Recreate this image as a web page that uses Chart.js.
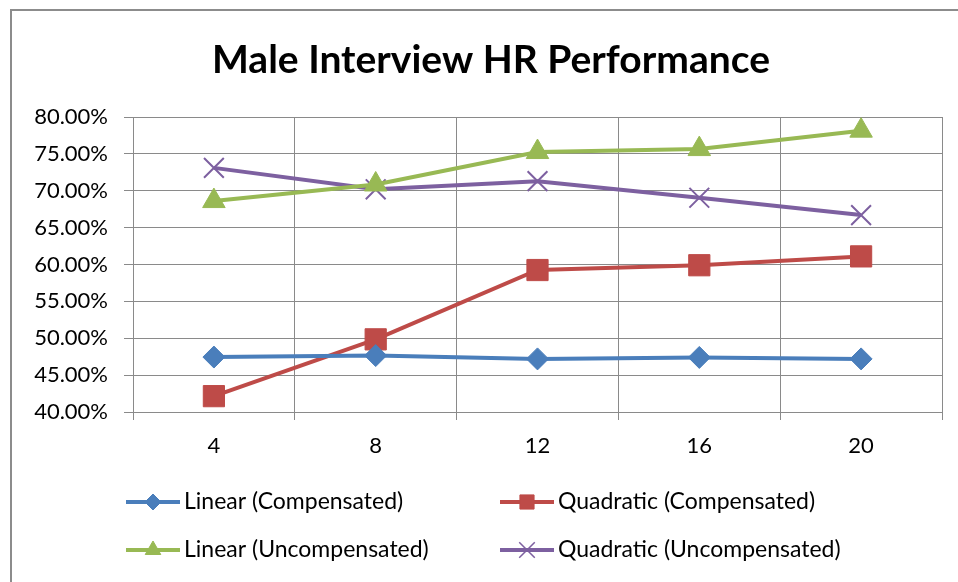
<!DOCTYPE html>
<html>
<head>
<meta charset="utf-8">
<script src="https://cdn.jsdelivr.net/npm/chart.js@4/dist/chart.umd.min.js"></script>
<style>
  html, body { margin: 0; padding: 0; background: #ffffff; }
  #wrap { width: 958px; height: 582px; position: relative; }
</style>
</head>
<body>
<div id="wrap"><canvas id="c" width="958" height="582"></canvas></div>
<script>
const chartTitle = 'Male Interview HR Performance';
const categories = ['4', '8', '12', '16', '20'];
const seriesNames = ['Linear (Compensated)', 'Quadratic (Compensated)', 'Linear (Uncompensated)', 'Quadratic (Uncompensated)'];
const linearCompensated = [47.45, 47.65, 47.2, 47.4, 47.2];
const quadraticCompensated = [42.15, 49.85, 59.25, 59.9, 61.1];
const linearUncompensated = [68.6, 70.85, 75.25, 75.65, 78.15];
const quadraticUncompensated = [73.1, 70.2, 71.3, 69.05, 66.7];
const yMin = 40, yMax = 80, yStep = 5;

const FONT = 'Lato, "Open Sans", "Liberation Sans", sans-serif';

function ds(label, data, color, style, radius, bw) {
  return {
    label: label, data: data,
    borderColor: color, backgroundColor: color,
    pointBackgroundColor: color, pointBorderColor: color,
    borderWidth: 4, pointStyle: style, pointRadius: radius,
    pointBorderWidth: bw, pointHoverRadius: radius, tension: 0
  };
}

const datasets = [
  ds(seriesNames[0], linearCompensated, '#4A7EBB', 'rectRot', 11, 1),
  ds(seriesNames[1], quadraticCompensated, '#BE4B48', 'rect', 15, 1),
  ds(seriesNames[2], linearUncompensated, '#98B954', 'triangle', 13, 1),
  ds(seriesNames[3], quadraticUncompensated, '#7D60A0', 'crossRot', 14, 2)
];

const frame = {
  id: 'frame',
  beforeDraw(chart) {
    const ctx = chart.ctx;
    ctx.save();
    ctx.strokeStyle = '#8C8C8C';
    ctx.lineWidth = 2;
    ctx.beginPath();
    ctx.moveTo(11, 600);
    ctx.lineTo(11, 10);
    ctx.lineTo(970, 10);
    ctx.stroke();
    ctx.fillStyle = '#000000';
    ctx.font = 'bold 39px ' + FONT;
    ctx.textAlign = 'center';
    ctx.textBaseline = 'middle';
    ctx.fillText(chartTitle, 491, 60);
    ctx.restore();
  }
};

const customLegend = {
  id: 'customLegend',
  afterDraw(chart) {
    const ctx = chart.ctx;
    const cols = [126, 500];
    const rows = [502, 550];
    ctx.save();
    chart.data.datasets.forEach((d, i) => {
      const x0 = cols[i % 2];
      const y = rows[Math.floor(i / 2)];
      ctx.strokeStyle = d.borderColor;
      ctx.fillStyle = d.borderColor;
      ctx.lineWidth = 4;
      ctx.lineCap = 'butt';
      ctx.beginPath();
      ctx.moveTo(x0, y);
      ctx.lineTo(x0 + 54, y);
      ctx.stroke();
      const r = { rectRot: 8, rect: 10, triangle: 9, crossRot: 11 }[d.pointStyle];
      ctx.lineWidth = d.pointStyle === 'crossRot' ? 1.5 : 1;
      Chart.helpers.drawPoint(ctx, {
        pointStyle: d.pointStyle, rotation: 0, radius: r,
        borderWidth: d.pointStyle === 'crossRot' ? 1.5 : 1
      }, x0 + 27, y);
      ctx.fillStyle = '#000000';
      ctx.font = '23px ' + FONT;
      ctx.textBaseline = 'middle';
      ctx.textAlign = 'left';
      ctx.fillText(d.label, x0 + 58, y);
    });
    ctx.restore();
  }
};

new Chart(document.getElementById('c'), {
  type: 'line',
  data: { labels: categories, datasets: datasets },
  options: {
    responsive: false,
    animation: false,
    devicePixelRatio: 1,
    layout: { padding: { left: 0, right: 16, top: 117, bottom: 120 } },
    plugins: {
      legend: { display: false },
      tooltip: { enabled: false },
      title: { display: false }
    },
    scales: {
      x: {
        type: 'category', offset: true,
        grid: { offset: true, color: '#8A8A8A', lineWidth: 1, tickLength: 8, drawTicks: true },
        border: { color: '#8A8A8A', width: 1 },
        ticks: { color: '#000000', font: { family: FONT, size: 22 }, padding: 13 },
        afterFit(s) { s.height = 50; }
      },
      y: {
        min: yMin, max: yMax,
        grid: { color: '#8A8A8A', lineWidth: 1, tickLength: 9 },
        border: { color: '#8A8A8A', width: 1 },
        ticks: {
          stepSize: yStep, color: '#000000', font: { family: FONT, size: 22 }, padding: 16,
          callback: v => v.toFixed(2) + '%'
        },
        afterFit(s) { s.width = 133; }
      }
    }
  },
  plugins: [frame, customLegend]
});
</script>
</body>
</html>
